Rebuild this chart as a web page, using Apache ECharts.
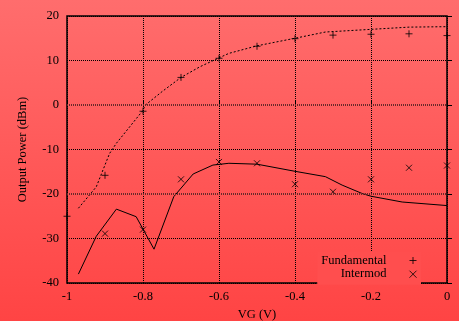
<!DOCTYPE html>
<html>
<head>
<meta charset="utf-8">
<script src="https://cdn.jsdelivr.net/npm/echarts@6/dist/echarts.min.js"></script>
<style>
  html, body { margin: 0; padding: 0; }
  #chart { width: 459px; height: 321px; }
</style>
</head>
<body>
<div id="chart"></div>
<script>
// measured points
const vgFundamental = [-1, -0.9, -0.8, -0.7, -0.6, -0.5, -0.4, -0.3, -0.2, -0.1, 0];
const fundamentalMeas = [-25, -15.8, -1.4, 6.2, 10.5, 13.2, 14.9, 15.7, 15.9, 16.0, 15.6];
const vgIntermod = [-0.9, -0.8, -0.7, -0.6, -0.5, -0.4, -0.3, -0.2, -0.1, 0];
const intermodMeas = [-28.9, -28.0, -16.7, -12.8, -13.1, -17.8, -19.5, -16.7, -14.1, -13.6];

// model curves
const vgFundCurve = [-0.97, -0.923, -0.888, -0.87, -0.835, -0.8, -0.795, -0.75, -0.7, -0.65, -0.6, -0.574, -0.5, -0.4, -0.32, -0.2, -0.1, 0];
const fundCurve = [-23.2, -18.4, -10.9, -8.6, -4.9, -1.2, -0.1, 3.0, 6.2, 8.6, 10.6, 11.6, 13.3, 15.0, 16.4, 17.0, 17.5, 17.6];
const vgImCurve = [-0.97, -0.923, -0.87, -0.818, -0.771, -0.719, -0.668, -0.616, -0.574, -0.5, -0.4, -0.32, -0.276, -0.223, -0.2, -0.118, 0];
const imCurve = [-38, -29.5, -23.4, -25.1, -32.4, -20.6, -15.5, -13.5, -13.1, -13.3, -14.9, -16.1, -18.0, -19.9, -20.5, -21.8, -22.6];

const xTicks = [-1, -0.8, -0.6, -0.4, -0.2, 0];
const yTicks = [-40, -30, -20, -10, 0, 10, 20];

const pairs = (xs, ys) => xs.map((x, i) => [x, ys[i]]);

const plusIcon = 'path://M0,5L10,5M5,0L5,10';
const crossIcon = 'path://M0,0L10,10M10,0L0,10';
const markStyle = { color: 'transparent', borderColor: '#000', borderWidth: 1 };
const font = '"Liberation Serif", "DejaVu Serif", serif';

const chart = echarts.init(document.getElementById('chart'));

const option = {
  animation: false,
  backgroundColor: {
    type: 'linear', x: 0, y: 0, x2: 0, y2: 1,
    colorStops: [
      { offset: 0, color: '#ff6d6d' },
      { offset: 1, color: '#ff4444' }
    ]
  },
  textStyle: { fontFamily: font },
  grid: {
    left: 67,
    right: 12,
    top: 16,
    bottom: 38,
    containLabel: false,
    outerBoundsMode: 'none',
    show: true,
    borderColor: '#000',
    borderWidth: 1.5,
    backgroundColor: 'transparent'
  },
  legend: {
    orient: 'vertical',
    align: 'right',
    right: 38,
    top: 252,
    padding: [2, 4, 4, 4],
    itemGap: 0.7,
    itemWidth: 7,
    itemHeight: 7,
    backgroundColor: '#ff4e4e',
    textStyle: {
      fontFamily: font,
      fontSize: 12.5,
      color: '#000',
      lineHeight: 12,
      padding: [0, 18, 0, 0]
    },
    data: [
      { name: 'Fundamental', icon: plusIcon, itemStyle: markStyle },
      { name: 'Intermod', icon: crossIcon, itemStyle: markStyle }
    ]
  },
  xAxis: {
    type: 'value',
    min: -1,
    max: 0,
    interval: 0.2,
    name: 'VG (V)',
    nameLocation: 'middle',
    nameGap: 25,
    nameTextStyle: { fontFamily: font, fontSize: 12.5, color: '#000' },
    axisLine: { show: false },
    axisTick: { show: true, inside: true, length: 5, lineStyle: { color: '#000' } },
    axisLabel: {
      fontFamily: font, fontSize: 12.5, color: '#000', margin: 7,
      formatter: v => String(xTicks.find(t => Math.abs(t - v) < 1e-9) ?? v)
    },
    splitLine: { show: true, lineStyle: { color: '#000', type: [1, 1], width: 1 } }
  },
  yAxis: {
    type: 'value',
    min: -40,
    max: 20,
    interval: 10,
    name: 'Output Power (dBm)',
    nameLocation: 'middle',
    nameGap: 38,
    nameTextStyle: { fontFamily: font, fontSize: 12.5, color: '#000' },
    axisLine: { show: false },
    axisTick: { show: true, inside: true, length: 5, lineStyle: { color: '#000' } },
    axisLabel: {
      fontFamily: font, fontSize: 12.5, color: '#000', margin: 8,
      formatter: v => String(yTicks.find(t => t === v) ?? v)
    },
    splitLine: { show: true, lineStyle: { color: '#000', type: [1, 1], width: 1 } }
  },
  series: [
    {
      name: 'Fundamental model',
      type: 'line',
      data: pairs(vgFundCurve, fundCurve),
      showSymbol: false,
      lineStyle: { color: '#000', width: 1, type: [2, 2] },
      markLine: {
        silent: true,
        symbol: 'none',
        label: { show: false },
        lineStyle: { color: '#6a2a2a', width: 2, type: [1, 1] },
        data: [{ yAxis: 0 }, { yAxis: -20 }]
      }
    },
    {
      name: 'Intermod model',
      type: 'line',
      data: pairs(vgImCurve, imCurve),
      showSymbol: false,
      lineStyle: { color: '#000', width: 1 }
    },
    {
      name: 'Fundamental',
      type: 'scatter',
      data: pairs(vgFundamental, fundamentalMeas),
      symbol: plusIcon,
      symbolSize: 7,
      itemStyle: markStyle
    },
    {
      name: 'Intermod',
      type: 'scatter',
      data: pairs(vgIntermod, intermodMeas),
      symbol: crossIcon,
      symbolSize: 6,
      itemStyle: markStyle
    }
  ]
};

chart.setOption(option);
</script>
</body>
</html>
